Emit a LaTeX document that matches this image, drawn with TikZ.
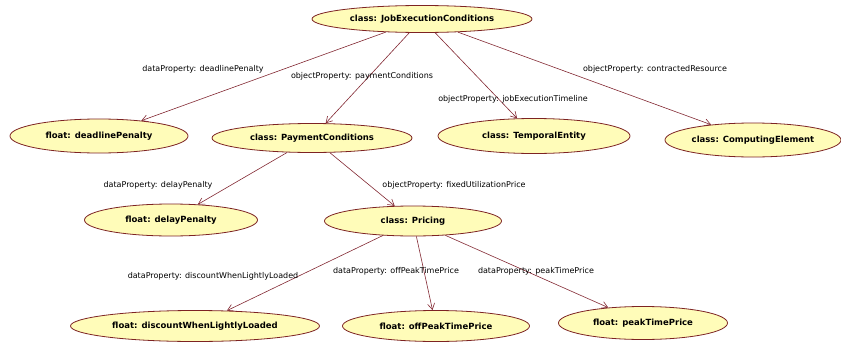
\documentclass[tikz,border=0pt]{standalone}
\usepackage{fontspec}
\setmainfont{DejaVu Sans}
\usetikzlibrary{shapes.geometric,arrows.meta}
\definecolor{nodefill}{RGB}{255,252,185}
\definecolor{nodeline}{RGB}{125,35,35}
\definecolor{relline}{RGB}{130,40,50}
\tikzset{
  ent/.style={ellipse,draw=nodeline,fill=nodefill,inner sep=0pt,line width=.8pt,
    font=\fontsize{8.5}{9}\selectfont\bfseries},
  rel/.style={draw=relline,line width=.6pt,-{Straight Barb[length=6pt,width=7pt]}},
  prop/.style={font=\fontsize{8}{9}\selectfont,inner sep=0pt}
}
\begin{document}
\begin{tikzpicture}[x=1pt,y=-1pt]
\useasboundingbox (0,0) rectangle (841,343);
% classes and datatypes
\node[ent,minimum width=220,minimum height=27](job)at(422,19){class: JobExecutionConditions};
\node[ent,minimum width=178,minimum height=34](deadline)at(99,136){float: deadlinePenalty};
\node[ent,minimum width=200,minimum height=29](payment)at(312,138){class: PaymentConditions};
\node[ent,minimum width=192,minimum height=35](temporal)at(534,136){class: TemporalEntity};
\node[ent,minimum width=176,minimum height=34](computing)at(753,140){class: ComputingElement};
\node[ent,minimum width=173,minimum height=32](delay)at(171,220){float: delayPenalty};
\node[ent,minimum width=177,minimum height=30](pricing)at(413,221){class: Pricing};
\node[ent,minimum width=249,minimum height=31](discount)at(195,326){float: discountWhenLightlyLoaded};
\node[ent,minimum width=187,minimum height=31](offpeak)at(436,326){float: offPeakTimePrice};
\node[ent,minimum width=169,minimum height=33](peak)at(643,323){float: peakTimePrice};
% properties
\draw[rel](job)--(deadline);
\draw[rel](job)--(payment);
\draw[rel](job)--(temporal);
\draw[rel](job)--(computing);
\draw[rel](payment)--(delay);
\draw[rel](payment)--(pricing);
\draw[rel](pricing)--(discount);
\draw[rel](pricing)--(offpeak);
\draw[rel](pricing)--(peak);
\node[prop](lbdeadline)at(203,69){dataProperty: deadlinePenalty};
\node[prop](lbpayment)at(362,76){objectProperty: paymentConditions};
\node[prop](lbtimeline)at(513,99){objectProperty: jobExecutionTimeline};
\node[prop](lbresource)at(655,69){objectProperty: contractedResource};
\node[prop](lbdelay)at(158,185){dataProperty: delayPenalty};
\node[prop](lbfixed)at(454,185){objectProperty: fixedUtilizationPrice};
\node[prop](lbdiscount)at(213,276){dataProperty: discountWhenLightlyLoaded};
\node[prop](lboffpeak)at(396,271){dataProperty: offPeakTimePrice};
\node[prop](lbpeak)at(536,271){dataProperty: peakTimePrice};
\end{tikzpicture}
\end{document}
